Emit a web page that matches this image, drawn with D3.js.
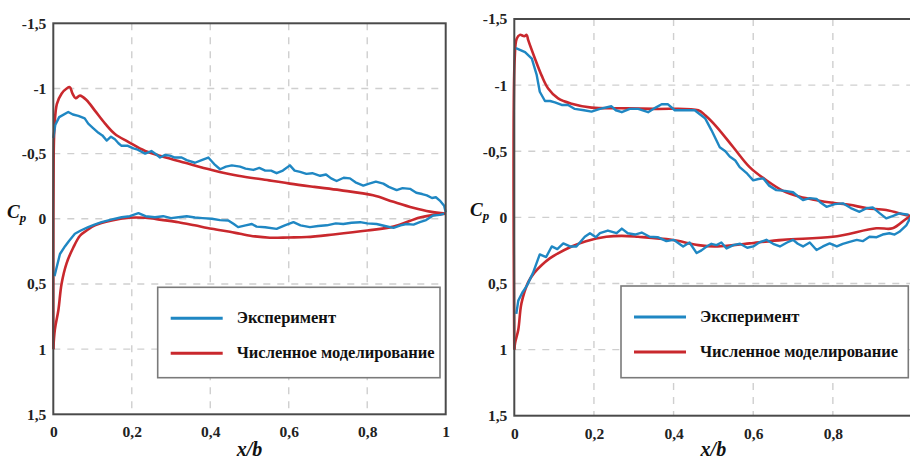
<!DOCTYPE html>
<html><head><meta charset="utf-8">
<script src="https://cdn.jsdelivr.net/npm/d3@7"></script>
<style>body{margin:0;background:#fff}svg{display:block}</style>
</head><body>
<svg id="chart" width="910" height="459"></svg>
<script>
// ---------- DATA ----------
const xTicks = [0, 0.2, 0.4, 0.6, 0.8, 1];
const yTicks = [-1.5, -1, -0.5, 0, 0.5, 1, 1.5];
const seriesNames = ["Эксперимент", "Численное моделирование"];
const xLabel = "x/b";
const yLabel = "C";
const yLabelSub = "p";

// Left panel – experiment (upper / lower surface)
const leftExpUpper = [[0,-0.62],[0.005,-0.72],[0.015,-0.78],[0.038,-0.82],[0.05,-0.80],[0.064,-0.79],[0.072,-0.78],[0.08,-0.77],[0.089,-0.73],[0.1,-0.70],[0.115,-0.66],[0.125,-0.64],[0.136,-0.60],[0.147,-0.63],[0.157,-0.61],[0.166,-0.58],[0.174,-0.56],[0.19,-0.56],[0.204,-0.54],[0.215,-0.53],[0.234,-0.50],[0.25,-0.52],[0.26,-0.50],[0.272,-0.47],[0.285,-0.49],[0.297,-0.485],[0.31,-0.47],[0.327,-0.47],[0.34,-0.45],[0.361,-0.43],[0.378,-0.45],[0.395,-0.47],[0.41,-0.42],[0.425,-0.38],[0.44,-0.40],[0.455,-0.41],[0.476,-0.40],[0.49,-0.385],[0.51,-0.375],[0.525,-0.39],[0.54,-0.37],[0.555,-0.37],[0.569,-0.35],[0.585,-0.37],[0.603,-0.41],[0.615,-0.37],[0.629,-0.36],[0.645,-0.345],[0.66,-0.35],[0.68,-0.33],[0.695,-0.34],[0.708,-0.31],[0.722,-0.29],[0.74,-0.315],[0.756,-0.31],[0.77,-0.28],[0.79,-0.255],[0.805,-0.27],[0.822,-0.285],[0.841,-0.27],[0.855,-0.245],[0.875,-0.22],[0.89,-0.235],[0.909,-0.23],[0.925,-0.20],[0.94,-0.19],[0.952,-0.18],[0.965,-0.16],[0.975,-0.165],[0.985,-0.14],[0.996,-0.10],[1.0,-0.05]];
const leftExpLower = [[0.003,0.44],[0.008,0.38],[0.017,0.27],[0.03,0.21],[0.04,0.17],[0.055,0.115],[0.07,0.09],[0.089,0.064],[0.105,0.045],[0.123,0.026],[0.15,0.005],[0.174,-0.012],[0.195,-0.02],[0.217,-0.043],[0.235,-0.02],[0.259,-0.012],[0.28,-0.02],[0.3,-0.005],[0.319,-0.012],[0.34,-0.02],[0.361,-0.01],[0.38,-0.005],[0.404,0.0],[0.425,0.01],[0.446,0.013],[0.46,0.04],[0.471,0.064],[0.49,0.05],[0.506,0.04],[0.518,0.06],[0.54,0.065],[0.569,0.077],[0.59,0.05],[0.612,0.026],[0.63,0.05],[0.654,0.064],[0.675,0.055],[0.697,0.05],[0.72,0.035],[0.739,0.04],[0.76,0.03],[0.782,0.026],[0.8,0.035],[0.824,0.04],[0.845,0.055],[0.867,0.07],[0.885,0.05],[0.9,0.04],[0.918,0.045],[0.934,0.026],[0.95,0.01],[0.968,-0.025],[0.985,-0.03],[0.996,-0.04]];
// Left panel – simulation
const leftSimUpper = [[0,1.0],[0,0.3],[0.001,-0.5],[0.003,-0.7],[0.009,-0.88],[0.021,-0.96],[0.034,-1.0],[0.042,-1.01],[0.049,-0.96],[0.057,-0.925],[0.068,-0.945],[0.085,-0.91],[0.106,-0.83],[0.132,-0.73],[0.157,-0.65],[0.191,-0.59],[0.234,-0.52],[0.276,-0.48],[0.336,-0.43],[0.404,-0.375],[0.471,-0.33],[0.55,-0.295],[0.603,-0.27],[0.665,-0.245],[0.731,-0.22],[0.815,-0.18],[0.867,-0.13],[0.917,-0.085],[0.96,-0.055],[1.0,-0.04]];
const leftSimLower = [[0,1.0],[0.004,0.85],[0.013,0.70],[0.021,0.50],[0.034,0.34],[0.051,0.22],[0.068,0.13],[0.085,0.09],[0.106,0.05],[0.149,0.013],[0.191,-0.008],[0.234,-0.008],[0.276,0.008],[0.319,0.026],[0.36,0.05],[0.404,0.077],[0.45,0.10],[0.476,0.115],[0.514,0.135],[0.552,0.145],[0.6,0.143],[0.646,0.14],[0.714,0.12],[0.8,0.09],[0.867,0.06],[0.934,-0.01],[0.97,-0.03],[1.0,-0.04]];

// Right panel – experiment
const rightExpUpper = [[0.004,-1.28],[0.027,-1.25],[0.044,-1.20],[0.05,-1.14],[0.056,-1.08],[0.064,-0.95],[0.077,-0.88],[0.09,-0.88],[0.102,-0.87],[0.119,-0.85],[0.135,-0.85],[0.152,-0.82],[0.175,-0.81],[0.194,-0.80],[0.215,-0.82],[0.244,-0.84],[0.255,-0.81],[0.27,-0.795],[0.29,-0.82],[0.311,-0.82],[0.336,-0.795],[0.355,-0.83],[0.37,-0.855],[0.386,-0.855],[0.403,-0.81],[0.425,-0.81],[0.453,-0.81],[0.479,-0.75],[0.495,-0.66],[0.516,-0.53],[0.53,-0.50],[0.541,-0.46],[0.555,-0.43],[0.566,-0.38],[0.585,-0.33],[0.6,-0.28],[0.613,-0.29],[0.625,-0.295],[0.64,-0.24],[0.658,-0.206],[0.68,-0.20],[0.7,-0.19],[0.712,-0.16],[0.725,-0.13],[0.742,-0.145],[0.759,-0.14],[0.77,-0.11],[0.784,-0.08],[0.805,-0.10],[0.825,-0.106],[0.845,-0.07],[0.867,-0.042],[0.885,-0.07],[0.9,-0.075],[0.918,-0.03],[0.934,0.008],[0.95,-0.01],[0.967,-0.03],[0.99,-0.02]];
const rightExpLower = [[0.005,0.73],[0.01,0.63],[0.02,0.57],[0.031,0.52],[0.047,0.42],[0.064,0.28],[0.08,0.30],[0.094,0.22],[0.108,0.24],[0.123,0.197],[0.14,0.22],[0.156,0.22],[0.177,0.147],[0.19,0.12],[0.205,0.15],[0.215,0.12],[0.235,0.10],[0.257,0.12],[0.27,0.085],[0.285,0.12],[0.303,0.13],[0.32,0.115],[0.34,0.147],[0.36,0.15],[0.382,0.18],[0.4,0.17],[0.424,0.22],[0.44,0.19],[0.458,0.27],[0.47,0.25],[0.483,0.22],[0.495,0.20],[0.508,0.21],[0.52,0.19],[0.533,0.235],[0.55,0.21],[0.567,0.20],[0.585,0.23],[0.6,0.22],[0.615,0.19],[0.633,0.17],[0.65,0.20],[0.667,0.22],[0.685,0.19],[0.7,0.17],[0.712,0.20],[0.725,0.22],[0.742,0.19],[0.759,0.247],[0.775,0.22],[0.792,0.197],[0.81,0.22],[0.825,0.20],[0.842,0.185],[0.86,0.17],[0.875,0.18],[0.892,0.147],[0.91,0.15],[0.925,0.13],[0.942,0.12],[0.955,0.13],[0.967,0.109],[0.985,0.058],[0.995,0.0]];
// Right panel – simulation
const rightSimUpper = [[0,1.0],[0.001,-1.2],[0.006,-1.35],[0.014,-1.38],[0.025,-1.37],[0.031,-1.38],[0.035,-1.34],[0.052,-1.20],[0.069,-1.07],[0.085,-0.975],[0.11,-0.90],[0.144,-0.86],[0.194,-0.83],[0.27,-0.825],[0.353,-0.82],[0.462,-0.81],[0.48,-0.77],[0.508,-0.685],[0.55,-0.53],[0.591,-0.38],[0.633,-0.28],[0.675,-0.20],[0.717,-0.156],[0.759,-0.13],[0.8,-0.11],[0.842,-0.095],[0.884,-0.07],[0.934,-0.055],[0.985,-0.017],[1.0,-0.01]];
const rightSimLower = [[0,1.0],[0.002,0.95],[0.01,0.85],[0.018,0.65],[0.035,0.49],[0.05,0.42],[0.069,0.36],[0.089,0.31],[0.102,0.285],[0.144,0.22],[0.18,0.18],[0.231,0.147],[0.27,0.14],[0.311,0.147],[0.395,0.17],[0.462,0.21],[0.503,0.22],[0.55,0.21],[0.591,0.197],[0.675,0.17],[0.8,0.147],[0.909,0.083],[0.95,0.083],[0.985,0.01],[1.0,-0.01]];

// ---------- LAYOUT / STYLE ----------
const BLUE = "#1f87c3", RED = "#c9282d";
const panels = [
  {x0:53.3, x1:445.7, y0:23.3, y1:414.3, exp:[leftExpUpper,leftExpLower], sim:[leftSimUpper,leftSimLower], leg:{x:157.7,y:287.3,w:282.3,h:90.4}, cpX:7},
  {x0:514.3, x1:912.5, y0:19, y1:415.7, exp:[rightExpUpper,rightExpLower], sim:[rightSimUpper,rightSimLower], leg:{x:621,y:286,w:287.3,h:91.7}, cpX:470}
];
const fmt = d => String(d).replace(".", ",");
const svg = d3.select("#chart");
const serifStack = '"Liberation Serif","Times New Roman",serif';

panels.forEach(p => {
  const x = d3.scaleLinear().domain([0,1]).range([p.x0,p.x1]);
  const y = d3.scaleLinear().domain([-1.5,1.5]).range([p.y0,p.y1]);
  const g = svg.append("g");

  // grid
  g.append("g").selectAll("line").data(xTicks.slice(1,-1)).join("line")
    .attr("x1",d=>x(d)).attr("x2",d=>x(d)).attr("y1",p.y0).attr("y2",p.y1)
    .attr("stroke","#cfcfcf").attr("stroke-width",1.4).attr("stroke-dasharray","7,7");
  g.append("g").selectAll("line").data(yTicks.slice(1,-1)).join("line")
    .attr("y1",d=>y(d)).attr("y2",d=>y(d)).attr("x1",p.x0).attr("x2",p.x1)
    .attr("stroke","#cfcfcf").attr("stroke-width",1.4).attr("stroke-dasharray","7,7");

  // axes
  const ax = g.append("g").attr("transform",`translate(0,${p.y1})`)
    .call(d3.axisBottom(x).tickValues(xTicks).tickFormat(fmt).tickSize(0).tickPadding(12));
  const ay = g.append("g").attr("transform",`translate(${p.x0},0)`)
    .call(d3.axisLeft(y).tickValues(yTicks).tickFormat(fmt).tickSize(0).tickPadding(7));
  [ax,ay].forEach(a => {
    a.attr("font-family",null).attr("font-size",null);
    a.select(".domain").remove();
    a.selectAll("text").style("font-family",serifStack).style("font-weight","bold")
      .style("font-size","15.5px").attr("fill","#222");
  });

  // lines
  const lineExp = d3.line().x(d=>x(d[0])).y(d=>y(d[1]));
  const lineSim = d3.line().x(d=>x(d[0])).y(d=>y(d[1])).curve(d3.curveCatmullRom.alpha(0.5));
  g.append("g").selectAll("path").data(p.sim).join("path")
    .attr("d",lineSim).attr("fill","none").attr("stroke",RED).attr("stroke-width",2.6).attr("stroke-linejoin","round");
  g.append("g").selectAll("path").data(p.exp).join("path")
    .attr("d",lineExp).attr("fill","none").attr("stroke",BLUE).attr("stroke-width",2.4).attr("stroke-linejoin","round");

  // frame
  g.append("rect").attr("x",p.x0).attr("y",p.y0).attr("width",p.x1-p.x0).attr("height",p.y1-p.y0)
    .attr("fill","none").attr("stroke","#4a4a4a").attr("stroke-width",2);

  // legend
  const L = p.leg;
  const lg = g.append("g");
  lg.append("rect").attr("x",L.x).attr("y",L.y).attr("width",L.w).attr("height",L.h)
    .attr("fill","#fff").attr("stroke","#7a7a7a").attr("stroke-width",1.6);
  [BLUE,RED].forEach((c,i) => {
    const ly = L.y + 31 + i*35;
    lg.append("line").attr("x1",L.x+13).attr("x2",L.x+65).attr("y1",ly).attr("y2",ly)
      .attr("stroke",c).attr("stroke-width",3);
    lg.append("text").attr("x",L.x+79).attr("y",ly+5).text(seriesNames[i])
      .style("font-family",serifStack).style("font-weight","bold").style("font-size","16.5px").attr("fill","#111");
  });

  // axis titles
  g.append("text").attr("x",(p.x0+p.x1)/2).attr("y",456).attr("text-anchor","middle")
    .style("font-family",serifStack).style("font-weight","bold").style("font-style","italic")
    .style("font-size","20px").attr("fill","#111").text(xLabel);
  const cp = g.append("text").attr("x",p.cpX).attr("y",(y(0))-1)
    .style("font-family",serifStack).style("font-weight","bold").style("font-style","italic")
    .style("font-size","19px").attr("fill","#111");
  cp.append("tspan").text(yLabel);
  cp.append("tspan").style("font-size","13px").attr("dy",4).text(yLabelSub);
});
</script>
</body></html>
